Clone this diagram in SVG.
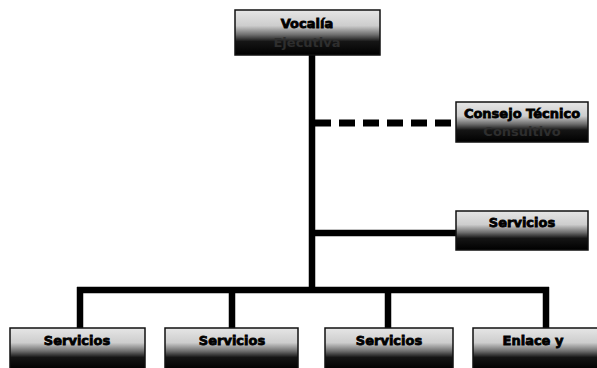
<svg xmlns="http://www.w3.org/2000/svg" width="597" height="368" viewBox="0 0 597 368">
  <defs>
    <linearGradient id="boxGrad" x1="0" y1="0" x2="0" y2="1">
      <stop offset="0" stop-color="#e6e6e6"/>
      <stop offset="0.35" stop-color="#cdcdcd"/>
      <stop offset="0.55" stop-color="#6e6e6e"/>
      <stop offset="0.7" stop-color="#151515"/>
      <stop offset="1" stop-color="#000"/>
    </linearGradient>
    <style>
      .box { fill: url(#boxGrad); stroke: #111; stroke-width: 1.5; }
      .t1 { font-family: "DejaVu Sans", "Liberation Sans", sans-serif; font-weight: bold; font-size: 13px; fill: #000; text-anchor: middle; stroke: #000; stroke-width: 0.8; }
      .t2 { font-family: "DejaVu Sans", "Liberation Sans", sans-serif; font-weight: bold; font-size: 13px; fill: #2e2e2e; text-anchor: middle; }
      .line { stroke: #000; stroke-width: 6.5; fill: none; }
      .dash { stroke: #000; stroke-width: 7; fill: none; stroke-dasharray: 16 8; }
    </style>
  </defs>

  <g id="connectors">
    <line class="line" x1="312" y1="54" x2="312" y2="293"/>
    <line class="dash" x1="315" y1="123" x2="456" y2="123"/>
    <line class="line" x1="312" y1="233" x2="456" y2="233"/>
    <line class="line" x1="77" y1="290" x2="549" y2="290"/>
    <line class="line" x1="80" y1="287" x2="80" y2="329"/>
    <line class="line" x1="232" y1="287" x2="232" y2="329"/>
    <line class="line" x1="388" y1="287" x2="388" y2="329"/>
    <line class="line" x1="546" y1="287" x2="546" y2="329"/>
  </g>

  <g id="vocalia">
    <rect class="box" x="235" y="10" width="145" height="45"/>
    <text class="t1" x="307" y="28">Vocalía</text>
    <text class="t2" x="307" y="47">Ejecutiva</text>
  </g>

  <g id="consejo">
    <rect class="box" x="456" y="102" width="132" height="40"/>
    <text class="t1" x="522" y="118">Consejo Técnico</text>
    <text class="t2" x="522" y="136">Consultivo</text>
  </g>

  <g id="servicios-staff">
    <rect class="box" x="456" y="211" width="132" height="39"/>
    <text class="t1" x="522" y="227">Servicios</text>
  </g>

  <g id="servicios-1">
    <rect class="box" x="10" y="328" width="135" height="42"/>
    <text class="t1" x="77" y="345">Servicios</text>
  </g>

  <g id="servicios-2">
    <rect class="box" x="165" y="328" width="133" height="42"/>
    <text class="t1" x="232" y="345">Servicios</text>
  </g>

  <g id="servicios-3">
    <rect class="box" x="325" y="328" width="128" height="42"/>
    <text class="t1" x="389" y="345">Servicios</text>
  </g>

  <g id="enlace">
    <rect class="box" x="473" y="328" width="126" height="42"/>
    <text class="t1" x="533" y="345">Enlace y</text>
  </g>
</svg>
